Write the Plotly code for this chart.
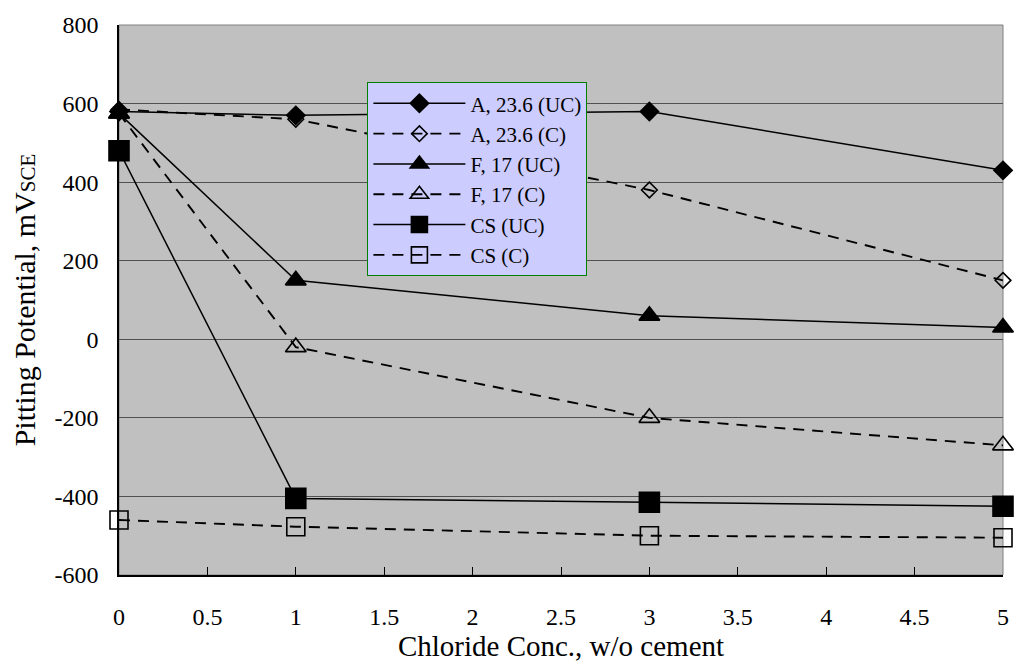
import plotly.graph_objects as go

x = [0, 1, 3, 5]
a_uc = [580, 570, 580, 430]
a_c = [585, 560, 380, 150]
f_uc = [575, 150, 60, 30]
f_c = [575, -20, -200, -270]
cs_uc = [480, -405, -415, -425]
cs_c = [-460, -477, -500, -505]

names = ["A, 23.6 (UC)", "A, 23.6 (C)", "F, 17 (UC)", "F, 17 (C)", "CS (UC)", "CS (C)"]
series = [a_uc, a_c, f_uc, f_c, cs_uc, cs_c]
symbols = ["diamond", "diamond-open", "triangle-up", "triangle-up-open", "square", "square-open"]
dashes = ["solid", "11px,8px", "solid", "11px,8px", "solid", "11px,8px"]
widths = [1.5, 1.9, 1.5, 1.9, 1.5, 1.9]
sizes = [14, 12, 18, 18, 20, 18]

y_ticks = [-600, -400, -200, 0, 200, 400, 600, 800]
y_ticktext = ["-600", "-400", "-200", "0", "200", "400", "600", "800"]
x_ticks = [0, 0.5, 1, 1.5, 2, 2.5, 3, 3.5, 4, 4.5, 5]
x_ticktext = ["0", "0.5", "1", "1.5", "2", "2.5", "3", "3.5", "4", "4.5", "5"]

fig = go.Figure()
for n, s, sym, d, w, sz in zip(names, series, symbols, dashes, widths, sizes):
    fig.add_trace(go.Scatter(
        x=x, y=s, name=n, mode="lines+markers",
        line=dict(color="black", width=w, dash=d),
        marker=dict(symbol=sym, size=sz, color="black",
                    line=dict(color="black", width=1.6)),
        cliponaxis=False,
    ))

font = "Liberation Serif"
fig.update_layout(
    width=1021, height=662,
    margin=dict(l=119, r=12, t=16, b=87),
    paper_bgcolor="white", plot_bgcolor="#C0C0C0",
    font=dict(family=font, size=24, color="black"),
    showlegend=True,
    legend=dict(x=0.281, y=0.896, xanchor="left", yanchor="top",
                bgcolor="#CCCCFF", bordercolor="#008000", borderwidth=1,
                font=dict(family=font, size=21), itemwidth=92,
                tracegroupgap=0),
    xaxis=dict(range=[0, 5], tickvals=x_ticks, ticktext=x_ticktext, showgrid=False,
               tickfont=dict(family=font, size=24),
               showline=True, linecolor="black", linewidth=1.5,
               ticks="inside", ticklen=8, tickcolor="black",
               ticklabelstandoff=19, zeroline=False, mirror=False,
               title=dict(text="Chloride Conc., w/o cement", font=dict(family=font, size=29), standoff=0)),
    yaxis=dict(range=[-600, 800], tickvals=y_ticks, ticktext=y_ticktext,
               tickfont=dict(family=font, size=24),
               showgrid=True, gridcolor="#505050",
               gridwidth=1, showline=True, linecolor="black", linewidth=1.5,
               ticks="", zeroline=False,
               ticklabelstandoff=14,
               title=dict(text="Pitting Potential, mV<span style='font-size:21px'>SCE</span>",
                          font=dict(family=font, size=30), standoff=10)),
    shapes=[dict(type="rect", xref="paper", yref="paper", x0=0, x1=1, y0=0, y1=1,
                 line=dict(color="#808080", width=1), layer="below")],
)
fig.write_html("out.html")
